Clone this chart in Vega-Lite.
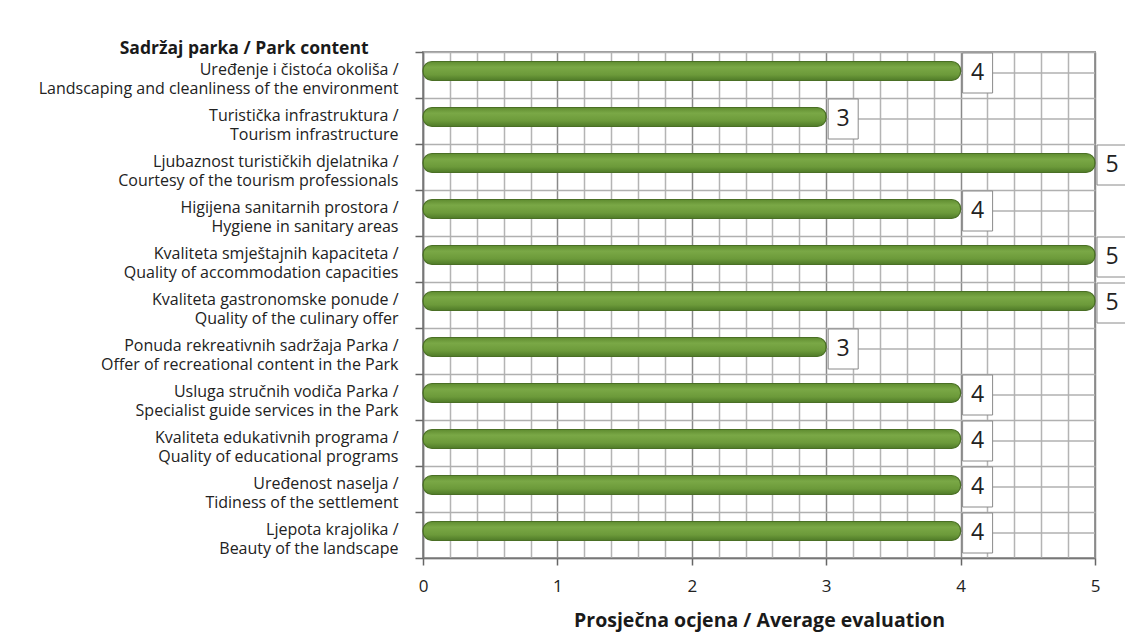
{
  "$schema": "https://vega.github.io/schema/vega-lite/v6.json",
  "autosize": {"type": "none"},
  "width": 672,
  "height": 506,
  "padding": {"left": 423, "top": 52, "right": 30, "bottom": 74},
  "background": "white",
  "config": {
    "font": "Open Sans",
    "view": {"stroke": "#9a9a9a", "strokeWidth": 2}
  },
  "data": {
    "values": [
      {"cat": "Uređenje i čistoća okoliša /|Landscaping and cleanliness of the environment", "value": 4},
      {"cat": "Turistička infrastruktura /|Tourism infrastructure", "value": 3},
      {"cat": "Ljubaznost turističkih djelatnika /|Courtesy of the tourism professionals", "value": 5},
      {"cat": "Higijena sanitarnih prostora /|Hygiene in sanitary areas", "value": 4},
      {"cat": "Kvaliteta smještajnih kapaciteta /|Quality of accommodation capacities", "value": 5},
      {"cat": "Kvaliteta gastronomske ponude /|Quality of the culinary offer", "value": 5},
      {"cat": "Ponuda rekreativnih sadržaja Parka /|Offer of recreational content in the Park", "value": 3},
      {"cat": "Usluga stručnih vodiča Parka /|Specialist guide services in the Park", "value": 4},
      {"cat": "Kvaliteta edukativnih programa /|Quality of educational programs", "value": 4},
      {"cat": "Uređenost naselja /|Tidiness of the settlement", "value": 4},
      {"cat": "Ljepota krajolika /|Beauty of the landscape", "value": 4}
    ]
  },
  "layer": [
    {
      "mark": {"type": "rule", "color": "#b0b0b0", "strokeWidth": 1.5, "yOffset": -2},
      "encoding": {
        "y": {
          "field": "cat", "type": "nominal", "sort": null,
          "scale": {"paddingInner": 0, "paddingOuter": 0},
          "axis": {
            "title": "Sadržaj parka / Park content",
            "titleAngle": 0,
            "titleAlign": "right",
            "titleBaseline": "middle",
            "titleX": -55,
            "titleY": -4,
            "titleFont": "Open Sans",
            "titleFontSize": 17.5,
            "titleFontWeight": "bold",
            "titleColor": "#1a1a1a",
            "labelExpr": "split(datum.label, '|')",
            "labelFont": "Open Sans",
            "labelFontSize": 16,
            "labelLineHeight": 19.5,
            "labelColor": "#222",
            "labelPadding": 17,
            "labelOffset": -6,
            "labelLimit": 600,
            "tickBand": "extent",
            "tickSize": 8,
            "tickColor": "#666",
            "tickWidth": 1.5,
            "domainColor": "#777",
            "domainWidth": 1.5,
            "grid": true,
            "gridColor": "#b0b0b0",
            "gridWidth": 1.5
          }
        },
        "x": {
          "datum": 0, "type": "quantitative",
          "scale": {"domain": [0, 5], "nice": false},
          "axis": {
            "title": "Prosječna ocjena / Average evaluation",
            "titleFont": "Open Sans",
            "titleFontSize": 19.5,
            "titleFontWeight": "bold",
            "titleColor": "#1a1a1a",
            "titlePadding": 17,
            "tickCount": 40,
            "values": [0, 0.2, 0.4, 0.6, 0.8, 1, 1.2, 1.4, 1.6, 1.8, 2, 2.2, 2.4, 2.6, 2.8, 3, 3.2, 3.4, 3.6, 3.8, 4, 4.2, 4.4, 4.6, 4.8, 5],
            "labelExpr": "datum.value % 1 === 0 ? format(datum.value, 'd') : ''",
            "labelOverlap": false,
            "labelFlush": false,
            "labelFont": "Open Sans",
            "labelFontSize": 17,
            "labelColor": "#222",
            "labelPadding": 13,
            "tickSize": 7,
            "tickColor": "#666",
            "tickWidth": 1.5,
            "tickOpacity": {"condition": {"test": "datum.value % 1 === 0", "value": 1}, "value": 0},
            "domainColor": "#777",
            "domainWidth": 1.5,
            "grid": true,
            "gridColor": {"condition": {"test": "datum.value % 1 === 0", "value": "#8a8a8a"}, "value": "#b4b4b4"},
            "gridWidth": 1.5
          }
        },
        "x2": {"datum": 5}
      }
    },
    {
      "mark": {
        "type": "bar",
        "size": 19,
        "cornerRadius": 9,
        "yOffset": -4,
        "stroke": "#4a6f25",
        "strokeWidth": 1.2,
        "color": {
          "gradient": "linear", "x1": 0, "y1": 0, "x2": 0, "y2": 1,
          "stops": [
            {"offset": 0, "color": "#5f8c30"},
            {"offset": 0.3, "color": "#7aa846"},
            {"offset": 0.7, "color": "#6c9a3a"},
            {"offset": 1, "color": "#4f7a28"}
          ]
        }
      },
      "encoding": {
        "y": {"field": "cat", "type": "nominal", "sort": null},
        "x": {"field": "value", "type": "quantitative"}
      }
    },
    {
      "mark": {
        "type": "bar",
        "size": 40,
        "fill": "white",
        "stroke": "#8a8a8a",
        "strokeWidth": 1,
        "xOffset": 2,
        "x2Offset": 32,
        "yOffset": -2
      },
      "encoding": {
        "y": {"field": "cat", "type": "nominal", "sort": null},
        "x": {"field": "value", "type": "quantitative"},
        "x2": {"field": "value"}
      }
    },
    {
      "mark": {
        "type": "text",
        "font": "Open Sans",
        "fontSize": 23,
        "color": "#222",
        "align": "center",
        "baseline": "middle",
        "xOffset": 17,
        "yOffset": -2
      },
      "encoding": {
        "y": {"field": "cat", "type": "nominal", "sort": null},
        "x": {"field": "value", "type": "quantitative"},
        "text": {"field": "value", "type": "quantitative"}
      }
    }
  ]
}
